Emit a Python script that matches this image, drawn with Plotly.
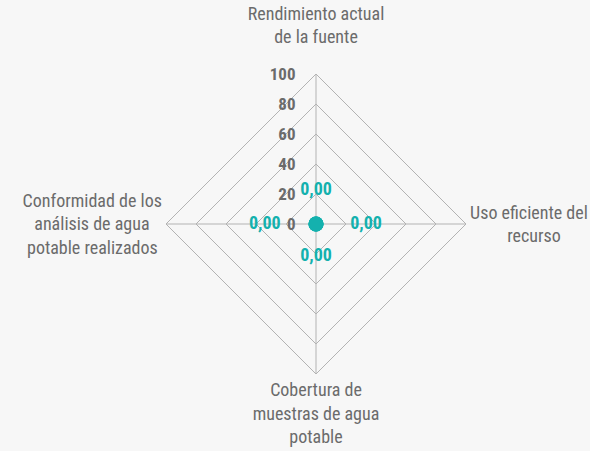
import plotly.graph_objects as go

NBSP = "\u00a0"
categories = [
    "Rendimiento actual<br>de la fuente<br>",
    "Uso eficiente del<br>" + NBSP * 9 + "recurso",
    "Cobertura de<br>muestras de agua<br>potable",
    "Conformidad de los<br>análisis de agua" + NBSP * 3 + "<br>potable realizados" + NBSP,
]
values = [0, 0, 0, 0]
value_labels = ["0,00", "0,00", "0,00", "0,00"]
radial_ticks = [0, 20, 40, 60, 80, 100]

# label placement style (not data)
label_positions = ["top center", "middle right", "bottom center", "middle left"]
label_offset_sizes = [37, 53, 36, 55]

FONT = "Liberation Sans Narrow, Roboto Condensed, Arial Narrow, sans-serif"
TEAL = "#14b1ae"
GRID = "#b3b3b3"
TXT = "#6b6b6b"

fig = go.Figure()
# grid subplot (linear gridshape) carries the axes
fig.add_trace(go.Scatterpolar(
    r=values, theta=categories, mode="lines",
    line=dict(color="rgba(0,0,0,0)"), hoverinfo="skip",
    showlegend=False, subplot="polar",
))
# data drawn on an overlaid circular polar so r=0 points are kept
fig.add_trace(go.Scatterpolar(
    r=values, theta=categories, mode="markers",
    marker=dict(color=TEAL, size=15),
    showlegend=False, subplot="polar2",
))
fig.add_trace(go.Scatterpolar(
    r=values, theta=categories, mode="markers+text",
    marker=dict(color="rgba(0,0,0,0)", size=label_offset_sizes, line=dict(width=0)),
    text=value_labels, textposition=label_positions,
    textfont=dict(color=TEAL, size=18, family=FONT, weight="bold"),
    showlegend=False, subplot="polar2", hoverinfo="skip",
))

fig.update_layout(
    width=590, height=451,
    paper_bgcolor="#f7f7f7", plot_bgcolor="#f7f7f7",
    margin=dict(l=166, r=124, t=74, b=77),
    font=dict(family=FONT, color=TXT, size=18),
    polar=dict(
        bgcolor="#f7f7f7",
        gridshape="linear",
        domain=dict(x=[0, 1], y=[0, 1]),
        angularaxis=dict(rotation=90, direction="clockwise",
                         showline=True, linecolor=GRID, linewidth=1,
                         gridcolor=GRID, gridwidth=1, ticks="",
                         tickfont=dict(size=18, color=TXT, family=FONT)),
        radialaxis=dict(range=[0, 100], tickvals=radial_ticks, angle=90, tickangle=90,
                        side="counterclockwise",
                        showline=False, gridcolor=GRID, gridwidth=1,
                        ticks="outside", ticklen=14, tickcolor="rgba(0,0,0,0)",
                        tickfont=dict(size=17, color=TXT, family=FONT, weight="bold")),
    ),
    polar2=dict(
        bgcolor="rgba(0,0,0,0)",
        domain=dict(x=[0, 1], y=[0, 1]),
        angularaxis=dict(rotation=90, direction="clockwise", visible=False),
        radialaxis=dict(range=[0, 100], visible=False),
    ),
)
fig.write_html("out.html", config={"displayModeBar": False},
               post_script="document.body.style.margin='0';")
